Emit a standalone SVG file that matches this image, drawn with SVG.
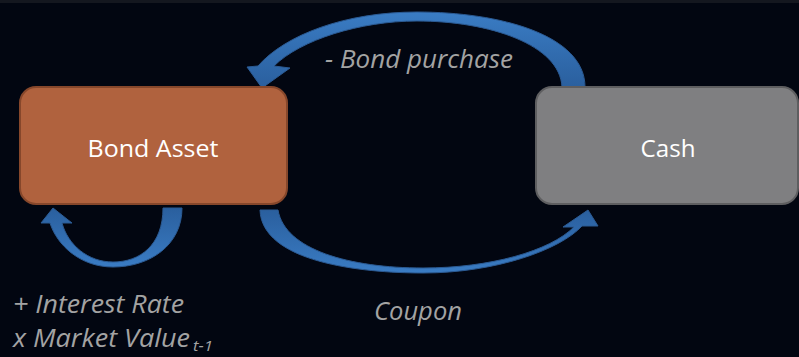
<svg xmlns="http://www.w3.org/2000/svg" width="799" height="357" viewBox="0 0 799 357">
<defs>
<style>
.lbl{font-family:"Open Sans","Liberation Sans",sans-serif;font-style:italic;fill:#a3a3a3;font-size:25px}
.nt{font-family:"Open Sans","Liberation Sans",sans-serif;fill:#ffffff;font-size:24px;text-anchor:middle}
.arrow{stroke:#2b5a93;stroke-width:1}
</style>
<linearGradient id="gTop" x1="0" y1="0" x2="0" y2="1">
<stop offset="0" stop-color="#3a7cc4"/><stop offset="1" stop-color="#2a5f9e"/>
</linearGradient>
<linearGradient id="gBot" x1="0" y1="0" x2="0" y2="1">
<stop offset="0" stop-color="#2a5f9e"/><stop offset="1" stop-color="#3a7cc4"/>
</linearGradient>
</defs>
<rect x="0" y="0" width="799" height="357" fill="#020611"/>
<rect x="0" y="0" width="799" height="3" fill="#14171f"/>
<g id="connectors">
<path id="bond-purchase" class="arrow" fill="url(#gTop)" d="M585,87 C585,35 500,12 417,12 C345,12 285,35 258,66 L247,67 L262,88 L290,68 L274,66 C300,40 360,21 417,21 C490,21 560,45 562,87 Z"/>
<path id="coupon" class="arrow" fill="url(#gBot)" d="M260,210 C262,262 360,273 423,273 C495,273 560,250 582,226 L598,226 L588,210 L563,227 L574,227 C550,251 490,268 423,268 C350,268 285,250 278,210 Z"/>
<path id="interest" class="arrow" fill="url(#gBot)" d="M182,208 C182,245 150,267 113,267 C80,267 57,245 50,223 L41,223 L53,208 L72,223 L62,223 C68,245 88,262 113,262 C140,262 163,245 163,208 Z"/>
<text class="lbl" x="325" y="68" textLength="188" lengthAdjust="spacingAndGlyphs">- Bond purchase</text>
<text class="lbl" x="374" y="320" textLength="88" lengthAdjust="spacingAndGlyphs">Coupon</text>
<text class="lbl" x="13" y="313" textLength="171" lengthAdjust="spacingAndGlyphs">+ Interest Rate</text>
<text class="lbl" x="13" y="347"><tspan textLength="177" lengthAdjust="spacingAndGlyphs">x Market Value</tspan><tspan x="193" y="351" font-size="14" textLength="20" lengthAdjust="spacingAndGlyphs">t-1</tspan></text>
</g>
<g id="bond-asset">
<rect x="20" y="87" width="267" height="117" rx="16" fill="#b0623e" stroke="#86472b" stroke-width="2"/>
<text class="nt" x="153" y="157" textLength="131" lengthAdjust="spacingAndGlyphs">Bond Asset</text>
</g>
<g id="cash">
<rect x="536" y="87" width="262" height="117" rx="16" fill="#7f7f81" stroke="#5e5e60" stroke-width="2"/>
<text class="nt" x="668" y="157" textLength="55" lengthAdjust="spacingAndGlyphs">Cash</text>
</g>
</svg>
